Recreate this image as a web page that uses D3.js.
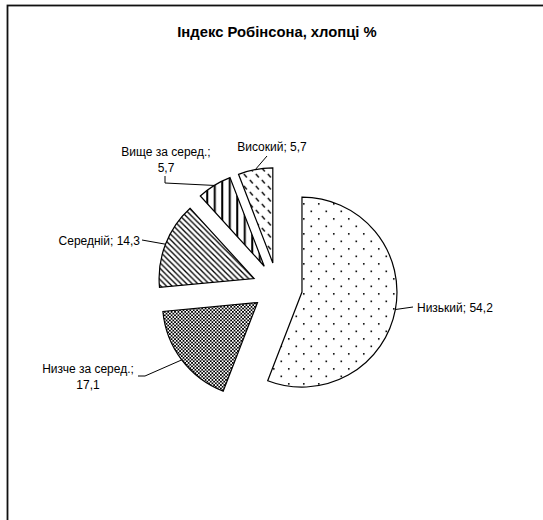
<!DOCTYPE html>
<html>
<head>
<meta charset="utf-8">
<script src="https://cdn.jsdelivr.net/npm/d3@7"></script>
<style>
  body { margin: 0; background: #fff; }
  text { font-family: "Liberation Sans", Arial, sans-serif; }
</style>
</head>
<body>
<div id="chart"></div>
<script>
var svgWidth = 543;
var svgHeight = 520;

// data
var categories = ["Низький", "Низче за серед.", "Середній", "Вище за серед.", "Високий"];
var values = [54.2, 17.1, 14.3, 5.7, 5.7];
var valueLabels = ["54,2", "17,1", "14,3", "5,7", "5,7"];
var title = "Індекс Робінсона, хлопці %";

var center = { x: 277.4, y: 287.5 };
var radius = 95;
var explode = 25;

// label layout: anchor point, text-anchor, lines, and leader elbow
var labelLayout = [
  { x: 417, y: 312, anchor: "start", twoLines: false, elbow: [[413, 307]] },
  { x: 88, y: 373, anchor: "middle", twoLines: true, elbow: [[145, 376], [138, 376]] },
  { x: 140, y: 245, anchor: "end", twoLines: false, elbow: [[142, 240]] },
  { x: 166, y: 156, anchor: "middle", twoLines: true, elbow: [[165, 183], [165, 176]] },
  { x: 272, y: 151, anchor: "middle", twoLines: false, elbow: [[267, 156]] }
];

var svg = d3.select("#chart")
  .append("svg")
  .attr("width", svgWidth)
  .attr("height", svgHeight);

// patterns
var defs = svg.append("defs");

// sparse dots
var p0 = defs.append("pattern").attr("id", "p0")
  .attr("patternUnits", "userSpaceOnUse")
  .attr("width", 15).attr("height", 15);
p0.append("rect").attr("width", 15).attr("height", 15).attr("fill", "#fff");
p0.append("rect").attr("x", 1).attr("y", 1).attr("width", 1.6).attr("height", 1.6).attr("fill", "#000");
p0.append("rect").attr("x", 8.5).attr("y", 8.5).attr("width", 1.6).attr("height", 1.6).attr("fill", "#000");

// fine checkerboard
var cs = 1.7;
var p1 = defs.append("pattern").attr("id", "p1")
  .attr("patternUnits", "userSpaceOnUse")
  .attr("width", cs * 2).attr("height", cs * 2);
p1.append("rect").attr("width", cs * 2).attr("height", cs * 2).attr("fill", "#fff");
p1.append("rect").attr("width", cs).attr("height", cs).attr("fill", "#000");
p1.append("rect").attr("x", cs).attr("y", cs).attr("width", cs).attr("height", cs).attr("fill", "#000");

// downward diagonal lines "\"
var dw = 5.6;
var p2 = defs.append("pattern").attr("id", "p2")
  .attr("patternUnits", "userSpaceOnUse")
  .attr("width", dw).attr("height", dw);
p2.append("rect").attr("width", dw).attr("height", dw).attr("fill", "#fff");
p2.append("path")
  .attr("d", `M0,0L${dw},${dw}M${-dw / 2},${dw / 2}L${dw / 2},${dw * 1.5}M${dw / 2},${-dw / 2}L${dw * 1.5},${dw / 2}`)
  .attr("stroke", "#000").attr("stroke-width", 1.3);

// vertical lines
var p3 = defs.append("pattern").attr("id", "p3")
  .attr("patternUnits", "userSpaceOnUse")
  .attr("width", 7.5).attr("height", 7.5);
p3.append("rect").attr("width", 7.5).attr("height", 7.5).attr("fill", "#fff");
p3.append("rect").attr("x", 2).attr("width", 2).attr("height", 7.5).attr("fill", "#000");

// dashed downward diagonal
var p4 = defs.append("pattern").attr("id", "p4")
  .attr("patternUnits", "userSpaceOnUse")
  .attr("width", 12).attr("height", 12);
p4.append("rect").attr("width", 12).attr("height", 12).attr("fill", "#fff");
p4.append("line").attr("x1", 1).attr("y1", 1).attr("x2", 4).attr("y2", 4.5)
  .attr("stroke", "#000").attr("stroke-width", 1.3);
p4.append("line").attr("x1", 7).attr("y1", 7).attr("x2", 10).attr("y2", 10.5)
  .attr("stroke", "#000").attr("stroke-width", 1.3);

var fills = ["url(#p0)", "url(#p1)", "url(#p2)", "url(#p3)", "url(#p4)"];

// frame
svg.append("rect")
  .attr("x", 7.5).attr("y", 5.5)
  .attr("width", 600).attr("height", 600)
  .attr("fill", "none")
  .attr("stroke", "#111")
  .attr("stroke-width", 1.8);

// title
svg.append("text")
  .attr("x", 277)
  .attr("y", 37)
  .attr("text-anchor", "middle")
  .attr("font-size", "14.8px")
  .attr("font-weight", "bold")
  .text(title);

var pie = d3.pie().sort(null).value(d => d)
  .startAngle(0).endAngle(2 * Math.PI);
var arcs = pie(values);

var arc = d3.arc().innerRadius(0).outerRadius(radius);
var edgeArc = d3.arc().innerRadius(radius).outerRadius(radius);

var chartGroup = svg.append("g")
  .attr("transform", `translate(${center.x}, ${center.y})`);

function offset(d) {
  var a = (d.startAngle + d.endAngle) / 2;
  return [explode * Math.sin(a), -explode * Math.cos(a)];
}

chartGroup.selectAll("path.slice")
  .data(arcs)
  .enter()
  .append("path")
  .attr("class", "slice")
  .attr("transform", d => `translate(${offset(d)[0]}, ${offset(d)[1]})`)
  .attr("d", arc)
  .attr("fill", (d, i) => fills[i])
  .attr("stroke", "#000")
  .attr("stroke-width", 1.2)
  .attr("stroke-linejoin", "miter");

// leader lines
arcs.forEach(function(d, i) {
  var o = offset(d);
  var c = edgeArc.centroid(d);
  var start = [center.x + o[0] + c[0], center.y + o[1] + c[1]];
  var pts = [start].concat(labelLayout[i].elbow);
  svg.append("path")
    .attr("d", d3.line()(pts))
    .attr("fill", "none")
    .attr("stroke", "#000")
    .attr("stroke-width", 1);
});

// labels
labelLayout.forEach(function(l, i) {
  var t = svg.append("text")
    .attr("x", l.x)
    .attr("y", l.y)
    .attr("text-anchor", l.anchor)
    .attr("font-size", "12px")
    .attr("fill", "#000");
  if (l.twoLines) {
    t.append("tspan").attr("x", l.x).text(categories[i] + ";");
    t.append("tspan").attr("x", l.x).attr("dy", 15.5).text(valueLabels[i]);
  } else {
    t.text(categories[i] + "; " + valueLabels[i]);
  }
});
</script>
</body>
</html>
